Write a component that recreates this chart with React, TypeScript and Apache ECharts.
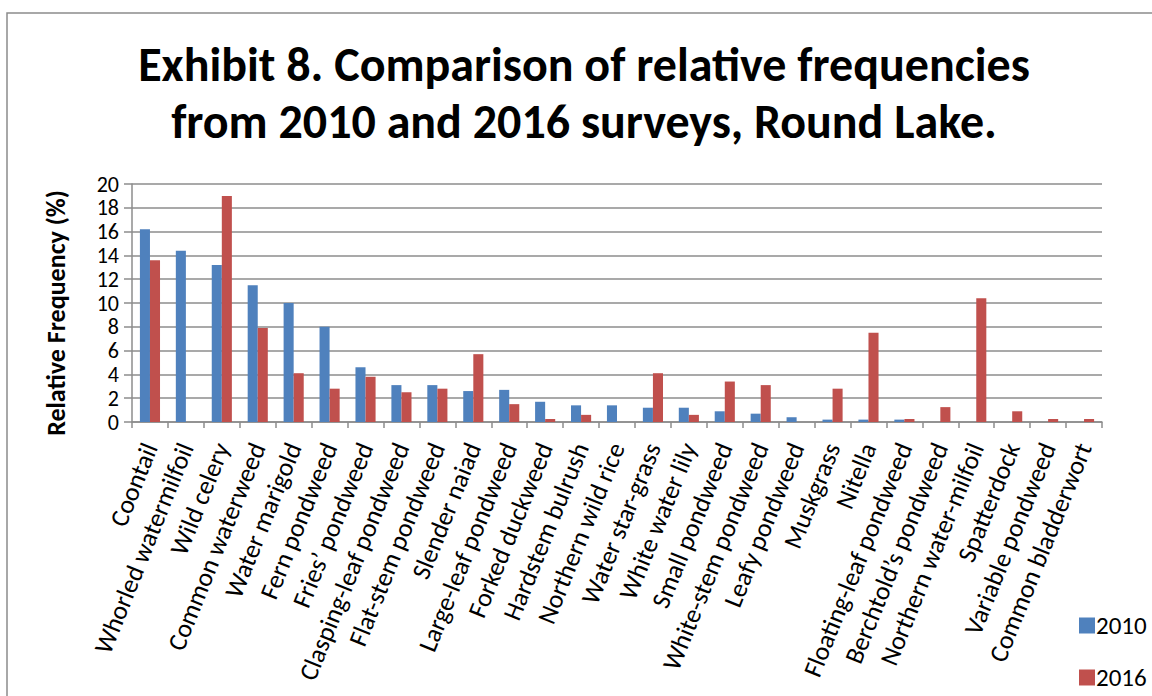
import React, { useEffect, useRef } from "react";
import * as echarts from "echarts";

const categories = [
  "Coontail",
  "Whorled watermilfoil",
  "Wild celery",
  "Common waterweed",
  "Water marigold",
  "Fern pondweed",
  "Fries’ pondweed",
  "Clasping-leaf pondweed",
  "Flat-stem pondweed",
  "Slender naiad",
  "Large-leaf pondweed",
  "Forked duckweed",
  "Hardstem bulrush",
  "Northern wild rice",
  "Water star-grass",
  "White water lily",
  "Small pondweed",
  "White-stem pondweed",
  "Leafy pondweed",
  "Muskgrass",
  "Nitella",
  "Floating-leaf pondweed",
  "Berchtold’s pondweed",
  "Northern water-milfoil",
  "Spatterdock",
  "Variable pondweed",
  "Common bladderwort",
];

const values2010 = [
  16.2, 14.4, 13.2, 11.5, 10.0, 8.0, 4.6, 3.1, 3.1, 2.6, 2.7, 1.7, 1.4, 1.4,
  1.2, 1.2, 0.9, 0.7, 0.4, 0.2, 0.2, 0.2, 0, 0, 0, 0, 0,
];

const values2016 = [
  13.6, 0, 19.0, 7.9, 4.1, 2.8, 3.8, 2.5, 2.8, 5.7, 1.5, 0.25, 0.6, 0, 4.1,
  0.6, 3.4, 3.1, 0, 2.8, 7.5, 0.25, 1.25, 10.4, 0.9, 0.25, 0.25,
];

const seriesNames = ["2010", "2016"];
const yAxisTitle = "Relative Frequency (%)";

const FONT = "Carlito, Lato, 'Open Sans', sans-serif";

export default function App() {
  const ref = useRef<HTMLDivElement>(null);
  useEffect(() => {
    if (!ref.current) return;
    const chart = echarts.init(ref.current, undefined, { renderer: "svg" });
    const legendBase = {
      orient: "vertical",
      left: 1074,
      itemWidth: 16,
      itemHeight: 16,
      icon: "rect",
      textStyle: { fontFamily: FONT, fontSize: 25, color: "#000000", padding: [0, 0, 0, -4] },
    };
    chart.setOption({
      animation: false,
      backgroundColor: "#ffffff",
      textStyle: { fontFamily: FONT },
      title: {
        text: "Exhibit 8. Comparison of relative frequencies\nfrom 2010 and 2016 surveys, Round Lake.",
        left: 579,
        top: 31,
        textAlign: "center",
        textStyle: {
          fontFamily: FONT,
          fontSize: 48,
          fontWeight: "bold",
          color: "#000000",
          lineHeight: 57,
        },
      },
      graphic: [
        {
          type: "rect",
          shape: { x: 7, y: 13, width: 1160, height: 700 },
          style: { fill: "none", stroke: "#8c8c8c", lineWidth: 1.5 },
          silent: true,
        },
        {
          type: "text",
          x: 56,
          y: 313,
          rotation: Math.PI / 2,
          style: {
            text: yAxisTitle,
            fontFamily: FONT,
            fontSize: 26,
            fontWeight: "bold",
            fill: "#000000",
            align: "center",
            verticalAlign: "middle",
          },
          silent: true,
        },
      ],
      legend: [
        { ...legendBase, top: 608, data: [seriesNames[0]] },
        { ...legendBase, top: 660, data: [seriesNames[1]] },
      ],
      grid: { left: 132, right: 50, top: 184, bottom: 274, containLabel: false },
      xAxis: {
        type: "category",
        data: categories,
        boundaryGap: true,
        axisLine: { lineStyle: { color: "#8c8c8c", width: 1.5 } },
        axisTick: { show: true, alignWithLabel: false, length: 6, lineStyle: { color: "#8c8c8c", width: 1.5 } },
        axisLabel: {
          interval: 0,
          rotate: 68,
          fontFamily: FONT,
          fontSize: 26,
          color: "#000000",
          margin: 22,
        },
      },
      yAxis: {
        type: "value",
        min: 0,
        max: 20,
        interval: 2,
        axisLine: { show: true, lineStyle: { color: "#8c8c8c", width: 1.5 } },
        axisTick: { show: true, length: 8, lineStyle: { color: "#8c8c8c", width: 1.5 } },
        splitLine: { show: true, lineStyle: { color: "#8c8c8c", width: 1.5 } },
        axisLabel: {
          fontFamily: FONT,
          fontSize: 22,
          lineHeight: 20,
          color: "#000000",
          margin: 13,
          showMinLabel: true,
          showMaxLabel: true,
          hideOverlap: false,
        },
      },
      series: [
        {
          name: seriesNames[0],
          type: "bar",
          data: values2010,
          itemStyle: { color: "#4F81BD" },
          barGap: "0%",
          barCategoryGap: "44%",
        },
        {
          name: seriesNames[1],
          type: "bar",
          data: values2016,
          itemStyle: { color: "#C0504D" },
          barGap: "0%",
          barCategoryGap: "44%",
        },
      ],
    });
    return () => chart.dispose();
  }, []);
  return (
    <div
      ref={ref}
      style={{ position: "fixed", left: 0, top: 0, width: 1152, height: 696 }}
    />
  );
}
